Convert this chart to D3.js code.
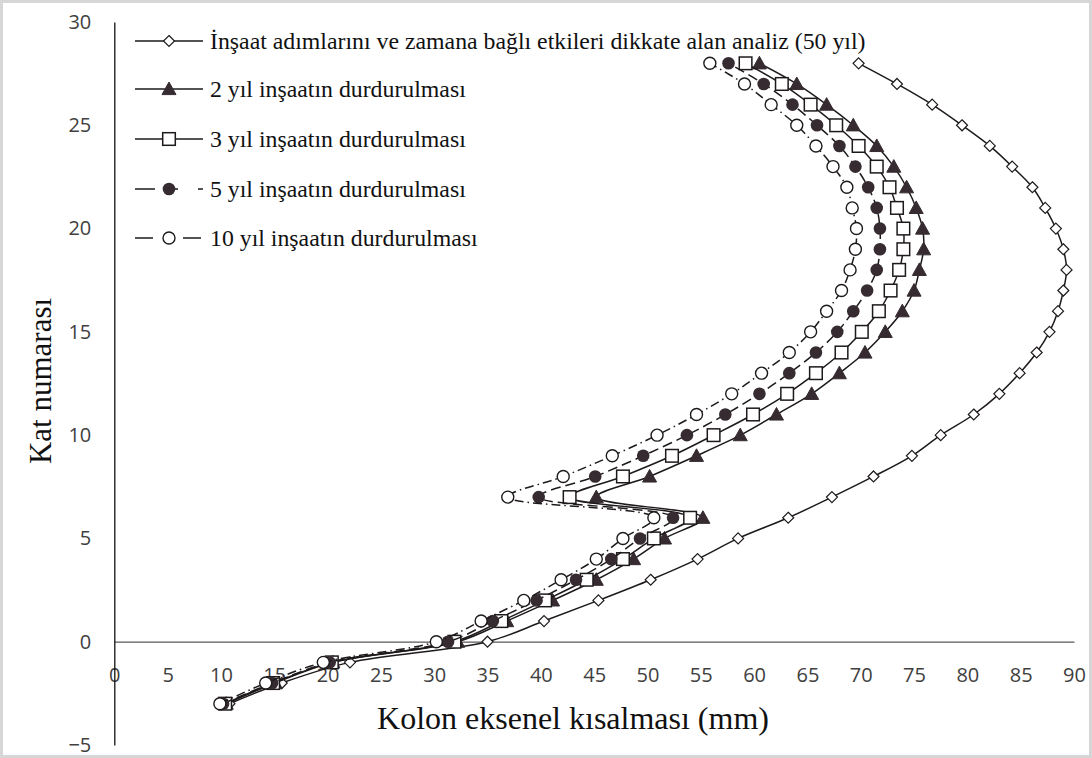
<!DOCTYPE html>
<html>
<head>
<meta charset="utf-8">
<script src="https://cdn.jsdelivr.net/npm/d3@7"></script>
<style>
  html, body { margin: 0; padding: 0; background: #fff; }
  svg { display: block; }
</style>
</head>
<body>
<svg id="chart" width="1092" height="758"></svg>
<script>
// ---- data ----
const floors = [-3,-2,-1,0,1,2,3,4,5,6,7,8,9,10,11,12,13,14,15,16,17,18,19,20,21,22,23,24,25,26,27,28];

const seriesNames = [
  "İnşaat adımlarını ve zamana bağlı etkileri dikkate alan analiz (50 yıl)",
  "2 yıl inşaatın durdurulması",
  "3 yıl inşaatın durdurulması",
  "5 yıl inşaatın durdurulması",
  "10 yıl inşaatın durdurulması"
];

const analysis50 = [10.8,15.7,22.1,35.0,40.3,45.4,50.3,54.7,58.5,63.2,67.3,71.2,74.8,77.5,80.6,83.0,84.9,86.5,87.7,88.5,89.0,89.3,89.0,88.3,87.3,86.1,84.2,82.1,79.5,76.7,73.4,69.8];
const stop2 = [10.5,15.1,20.5,32.2,36.8,41.1,45.2,48.7,51.6,55.2,45.2,50.2,54.6,58.7,62.1,65.4,68.0,70.4,72.3,73.9,75.0,75.5,75.9,75.8,75.2,74.3,73.1,71.5,69.3,66.8,64.0,60.5];
const stop3 = [10.4,14.9,20.4,31.9,36.3,40.4,44.3,47.7,50.6,54.0,42.7,47.7,52.3,56.2,59.9,63.1,65.8,68.2,70.1,71.7,72.8,73.6,74.0,74.0,73.4,72.7,71.5,69.8,67.7,65.3,62.6,59.2];
const stop5 = [10.2,14.8,20.2,31.3,35.5,39.6,43.3,46.6,49.3,52.4,39.8,45.1,49.6,53.7,57.3,60.5,63.3,65.8,67.8,69.3,70.6,71.5,71.8,71.8,71.5,70.7,69.5,68.0,65.9,63.6,60.9,57.6];
const stop10 = [9.9,14.2,19.6,30.2,34.4,38.4,41.9,45.2,47.7,50.6,36.9,42.1,46.7,50.9,54.6,57.9,60.7,63.3,65.3,66.8,68.2,69.0,69.5,69.6,69.2,68.7,67.4,65.8,64.0,61.6,59.1,55.85];

const xTicks = [0,5,10,15,20,25,30,35,40,45,50,55,60,65,70,75,80,85,90];
const yTicks = [-5,0,5,10,15,20,25,30];

const xTitle = "Kolon eksenel kısalması (mm)";
const yTitle = "Kat numarası";

// ---- styling ----
const ink = "#1e1a1c";
const fillDark = "#352b30";
const serif = "'Liberation Serif', 'Times New Roman', serif";
const series = [
  {name: seriesNames[0], values: analysis50, marker: "diamond", dash: null},
  {name: seriesNames[1], values: stop2, marker: "triangle", dash: null},
  {name: seriesNames[2], values: stop3, marker: "square", dash: null},
  {name: seriesNames[3], values: stop5, marker: "dot", dash: "10,5"},
  {name: seriesNames[4], values: stop10, marker: "circle", dash: "9,4,1.5,4"}
];

const svg = d3.select("#chart");

// frame
svg.append("rect").attr("x", 1.5).attr("y", 1.5).attr("width", 1089).attr("height", 755)
  .attr("fill", "#fff").attr("stroke", "#d6d6d6").attr("stroke-width", 3);

const x = d3.scaleLinear().domain([0, 90]).range([114.3, 1074]);
const y = d3.scaleLinear().domain([-5, 30]).range([745, 22]);

// axes
const xAxis = d3.axisBottom(x).tickValues(xTicks).tickSize(0).tickPadding(26).tickFormat(d3.format("d"));
const gx = svg.append("g").attr("transform", `translate(0,${y(0)})`).call(xAxis);
gx.select(".domain").attr("stroke", "#595959").attr("stroke-width", 1.3);
gx.selectAll("text").attr("font-family", "'Open Sans', sans-serif").attr("font-size", 20).attr("fill", "#404040");

const yAxis = d3.axisLeft(y).tickValues(yTicks).tickSize(0).tickPadding(23).tickFormat(d3.format("d"));
const gy = svg.append("g").attr("transform", `translate(${x(0)},0)`).call(yAxis);
gy.select(".domain").attr("stroke", "#111").attr("stroke-width", 1.3);
gy.selectAll("text").attr("font-family", "'Open Sans', sans-serif").attr("font-size", 20).attr("fill", "#404040");

// titles
svg.append("text").attr("x", 573).attr("y", 729).attr("text-anchor", "middle")
  .attr("font-family", serif).attr("font-size", 32).attr("fill", "#111")
  .text(xTitle);
svg.append("text").attr("transform", "translate(51,381) rotate(-90)").attr("text-anchor", "middle")
  .attr("font-family", serif).attr("font-size", 31).attr("fill", "#111")
  .text(yTitle);

// marker drawing
function drawMarker(g, type, cx, cy) {
  if (type === "diamond") {
    const s = 5.5;
    g.append("path").attr("d", `M${cx},${cy-s}L${cx+s},${cy}L${cx},${cy+s}L${cx-s},${cy}Z`)
      .attr("fill", "#fff").attr("stroke", ink).attr("stroke-width", 1.2);
  } else if (type === "triangle") {
    const s = 7;
    g.append("path").attr("d", `M${cx},${cy-s}L${cx+s},${cy+s*0.8}L${cx-s},${cy+s*0.8}Z`)
      .attr("fill", fillDark).attr("stroke", fillDark).attr("stroke-width", 1);
  } else if (type === "square") {
    const s = 6.3;
    g.append("rect").attr("x", cx - s).attr("y", cy - s).attr("width", 2*s).attr("height", 2*s)
      .attr("fill", "#fff").attr("stroke", ink).attr("stroke-width", 1.5);
  } else if (type === "dot") {
    g.append("circle").attr("cx", cx).attr("cy", cy).attr("r", 6.3).attr("fill", fillDark);
  } else if (type === "circle") {
    g.append("circle").attr("cx", cx).attr("cy", cy).attr("r", 6).attr("fill", "#fff")
      .attr("stroke", ink).attr("stroke-width", 1.4);
  }
}

const line = d3.line().x(d => x(d.v)).y(d => y(d.f)).curve(d3.curveCatmullRom.alpha(0.5));

series.forEach(s => {
  const pts = floors.map((f, i) => ({f: f, v: s.values[i]}));
  const g = svg.append("g");
  g.append("path").datum(pts).attr("d", line).attr("fill", "none").attr("stroke", ink)
    .attr("stroke-width", 1.5).attr("stroke-dasharray", s.dash);
  pts.forEach(p => drawMarker(g, s.marker, x(p.v), y(p.f)));
});

// legend
const legendRows = [41, 89, 139, 189, 238];
series.forEach((s, i) => {
  const ly = legendRows[i];
  const g = svg.append("g");
  g.append("line").attr("x1", 135).attr("x2", 203).attr("y1", ly).attr("y2", ly)
    .attr("stroke", ink).attr("stroke-width", 1.6).attr("stroke-dasharray", s.dash ? (s.marker === "dot" ? "20,13,10" : "18,30") : null);
  drawMarker(g, s.marker, 169, ly);
  g.append("text").attr("x", 210).attr("y", ly + 8)
    .attr("font-family", serif).attr("font-size", 23.8).attr("fill", "#111")
    .text(s.name);
});
</script>
</body>
</html>
